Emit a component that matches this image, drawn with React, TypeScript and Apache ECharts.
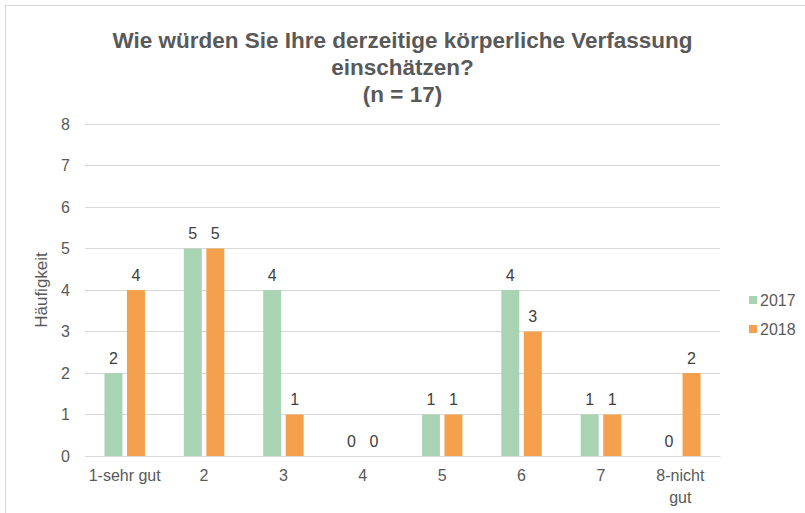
import React, { useEffect, useRef } from "react";
import * as echarts from "echarts";

const categories = ["1-sehr gut", "2", "3", "4", "5", "6", "7", "8-nicht\ngut"];
const values2017 = [2, 5, 4, 0, 1, 4, 1, 0];
const values2018 = [4, 5, 1, 0, 1, 3, 1, 2];
const seriesNames = ["2017", "2018"];
const titleText = "Wie würden Sie Ihre derzeitige körperliche Verfassung\neinschätzen?\n(n = 17)";
const yAxisName = "Häufigkeit";

export default function App() {
  const ref = useRef<HTMLDivElement>(null);
  useEffect(() => {
    if (!ref.current) return;
    const chart = echarts.init(ref.current, null, { renderer: "svg" });
    const font = "'Liberation Sans', Arial, sans-serif";
    const labelStyle = {
      show: true,
      position: "top" as const,
      distance: 7,
      color: "#404040",
      fontSize: 16,
      fontFamily: font,
    };
    chart.setOption({
      animation: false,
      title: {
        text: titleText,
        left: "center",
        top: 22,
        textStyle: {
          color: "#595959",
          fontSize: 22.5,
          fontWeight: "bold",
          fontFamily: font,
          lineHeight: 27,
        },
      },
      legend: {
        orient: "vertical",
        left: 744,
        top: 287,
        itemWidth: 8,
        itemHeight: 8,
        itemGap: 13,
        icon: "rect",
        textStyle: { color: "#595959", fontSize: 16, fontFamily: font, padding: [0, 0, 0, -2] },
        data: seriesNames,
      },
      grid: { left: 85, right: 85, top: 124, bottom: 57 },
      xAxis: {
        type: "category",
        data: categories,
        axisLine: { show: true, lineStyle: { color: "#d9d9d9", width: 1 } },
        axisTick: { show: false },
        axisLabel: {
          color: "#595959",
          fontSize: 16,
          fontFamily: font,
          margin: 8,
          lineHeight: 22,
          interval: 0,
        },
      },
      yAxis: {
        type: "value",
        min: 0,
        max: 8,
        interval: 1,
        name: yAxisName,
        nameLocation: "middle",
        nameGap: 24,
        nameTextStyle: { color: "#595959", fontSize: 17, fontFamily: font },
        axisLine: { show: false },
        axisTick: { show: false },
        axisLabel: { color: "#595959", fontSize: 16, fontFamily: font, margin: 15 },
        splitLine: { lineStyle: { color: "#d9d9d9", width: 1 } },
      },
      series: [
        {
          name: seriesNames[0],
          type: "bar",
          data: values2017,
          barWidth: 18,
          barGap: "25%",
          itemStyle: { color: "#A8D4B3" },
          label: labelStyle,
        },
        {
          name: seriesNames[1],
          type: "bar",
          data: values2018,
          barWidth: 18,
          barGap: "25%",
          itemStyle: { color: "#F5A04C" },
          label: labelStyle,
        },
      ],
    });
    return () => chart.dispose();
  }, []);
  return (
    <div
      style={{
        position: "absolute",
        left: 0,
        top: 0,
        width: 805,
        height: 513,
        background: "#fff",
        overflow: "hidden",
      }}
    >
      <div ref={ref} style={{ position: "absolute", left: 0, top: 0, width: 805, height: 513 }} />
      <div
        style={{
          position: "absolute",
          left: 5,
          top: 5,
          width: 820,
          height: 530,
          border: "1px solid #d9d9d9",
          boxSizing: "border-box",
          pointerEvents: "none",
        }}
      />
    </div>
  );
}
